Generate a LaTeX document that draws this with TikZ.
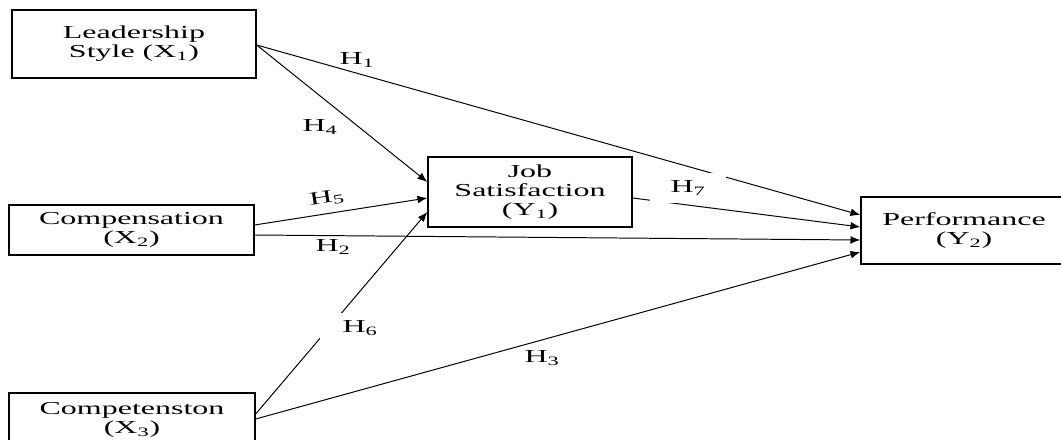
\documentclass[tikz,border=0pt]{standalone}
\usepackage{fontspec}
\setmainfont{Liberation Serif}[FakeStretch=1.75]
\usepackage{tikz}
\usetikzlibrary{positioning,arrows.meta}

\begin{document}
\begin{tikzpicture}[
				x=0.025cm, y=-0.025cm,
				>={Latex[length=7pt,width=5.5pt]},
				line width=0.7pt,
				inner sep=0pt,
				align=center,
				font=\fontsize{13}{13.5}\selectfont,
				var/.style={draw, line width=0.9pt},
				hyp/.style={inner sep=2pt}
			]
			
			\useasboundingbox (0,0) rectangle (1061,440);
			
			\node [var,minimum width=6.1cm,minimum height=1.7cm] (lead) at (134,44) {Leadership\\Style (X\textsubscript{1})};
			\node [var,minimum width=6.125cm,minimum height=1.25cm] (comp) at (131.5,230) {Compensation\\(X\textsubscript{2})};
			\node [var,minimum width=6.15cm,minimum height=1.35cm] (compet) at (132,420) {Competenston\\(X\textsubscript{3})};
			\node [var,minimum width=5.1cm,minimum height=1.75cm] (job) at (530,192) {Job\\Satisfaction\\(Y\textsubscript{1})};
			\node [var,minimum width=5.15cm,minimum height=1.675cm] (perf) at (964,230.5) {Performance\\(Y\textsubscript{2})};
			
			\draw [->] (lead.east |- 0,45) -- (perf.west |- 0,215);
			\draw [->] (lead.east |- 0,45) -- (job.west |- 0,182);
			\draw [->] (comp.east |- 0,225) -- (job.west |- 0,198);
			\draw [->] (comp.east |- 0,235) -- (perf.west |- 0,240);
			\draw [->] (compet.east |- 0,414) -- (job.west |- 0,212);
			\draw [->] (compet.east |- 0,419) -- (perf.west |- 0,252);
			\draw [->] (job.east |- 0,198) -- (perf.west |- 0,227);
			
			\node [hyp] (h1) at (357,60) {H\textsubscript{1}};
			\node [hyp] (h2) at (333,247) {H\textsubscript{2}};
			\node [hyp] (h3) at (542,358) {H\textsubscript{3}};
			\node [hyp] (h4) at (320,127) {H\textsubscript{4}};
			\node [hyp,rotate=9] (h5) at (327,198) {H\textsubscript{5}};
			\node [hyp,fill=white,minimum width=2cm,minimum height=0.75cm] (h6) at (360,328) {H\textsubscript{6}};
			\node [hyp,fill=white,minimum width=1.9cm,minimum height=0.75cm] (h7) at (688,188) {H\textsubscript{7}};
		\end{tikzpicture}
\end{document}
